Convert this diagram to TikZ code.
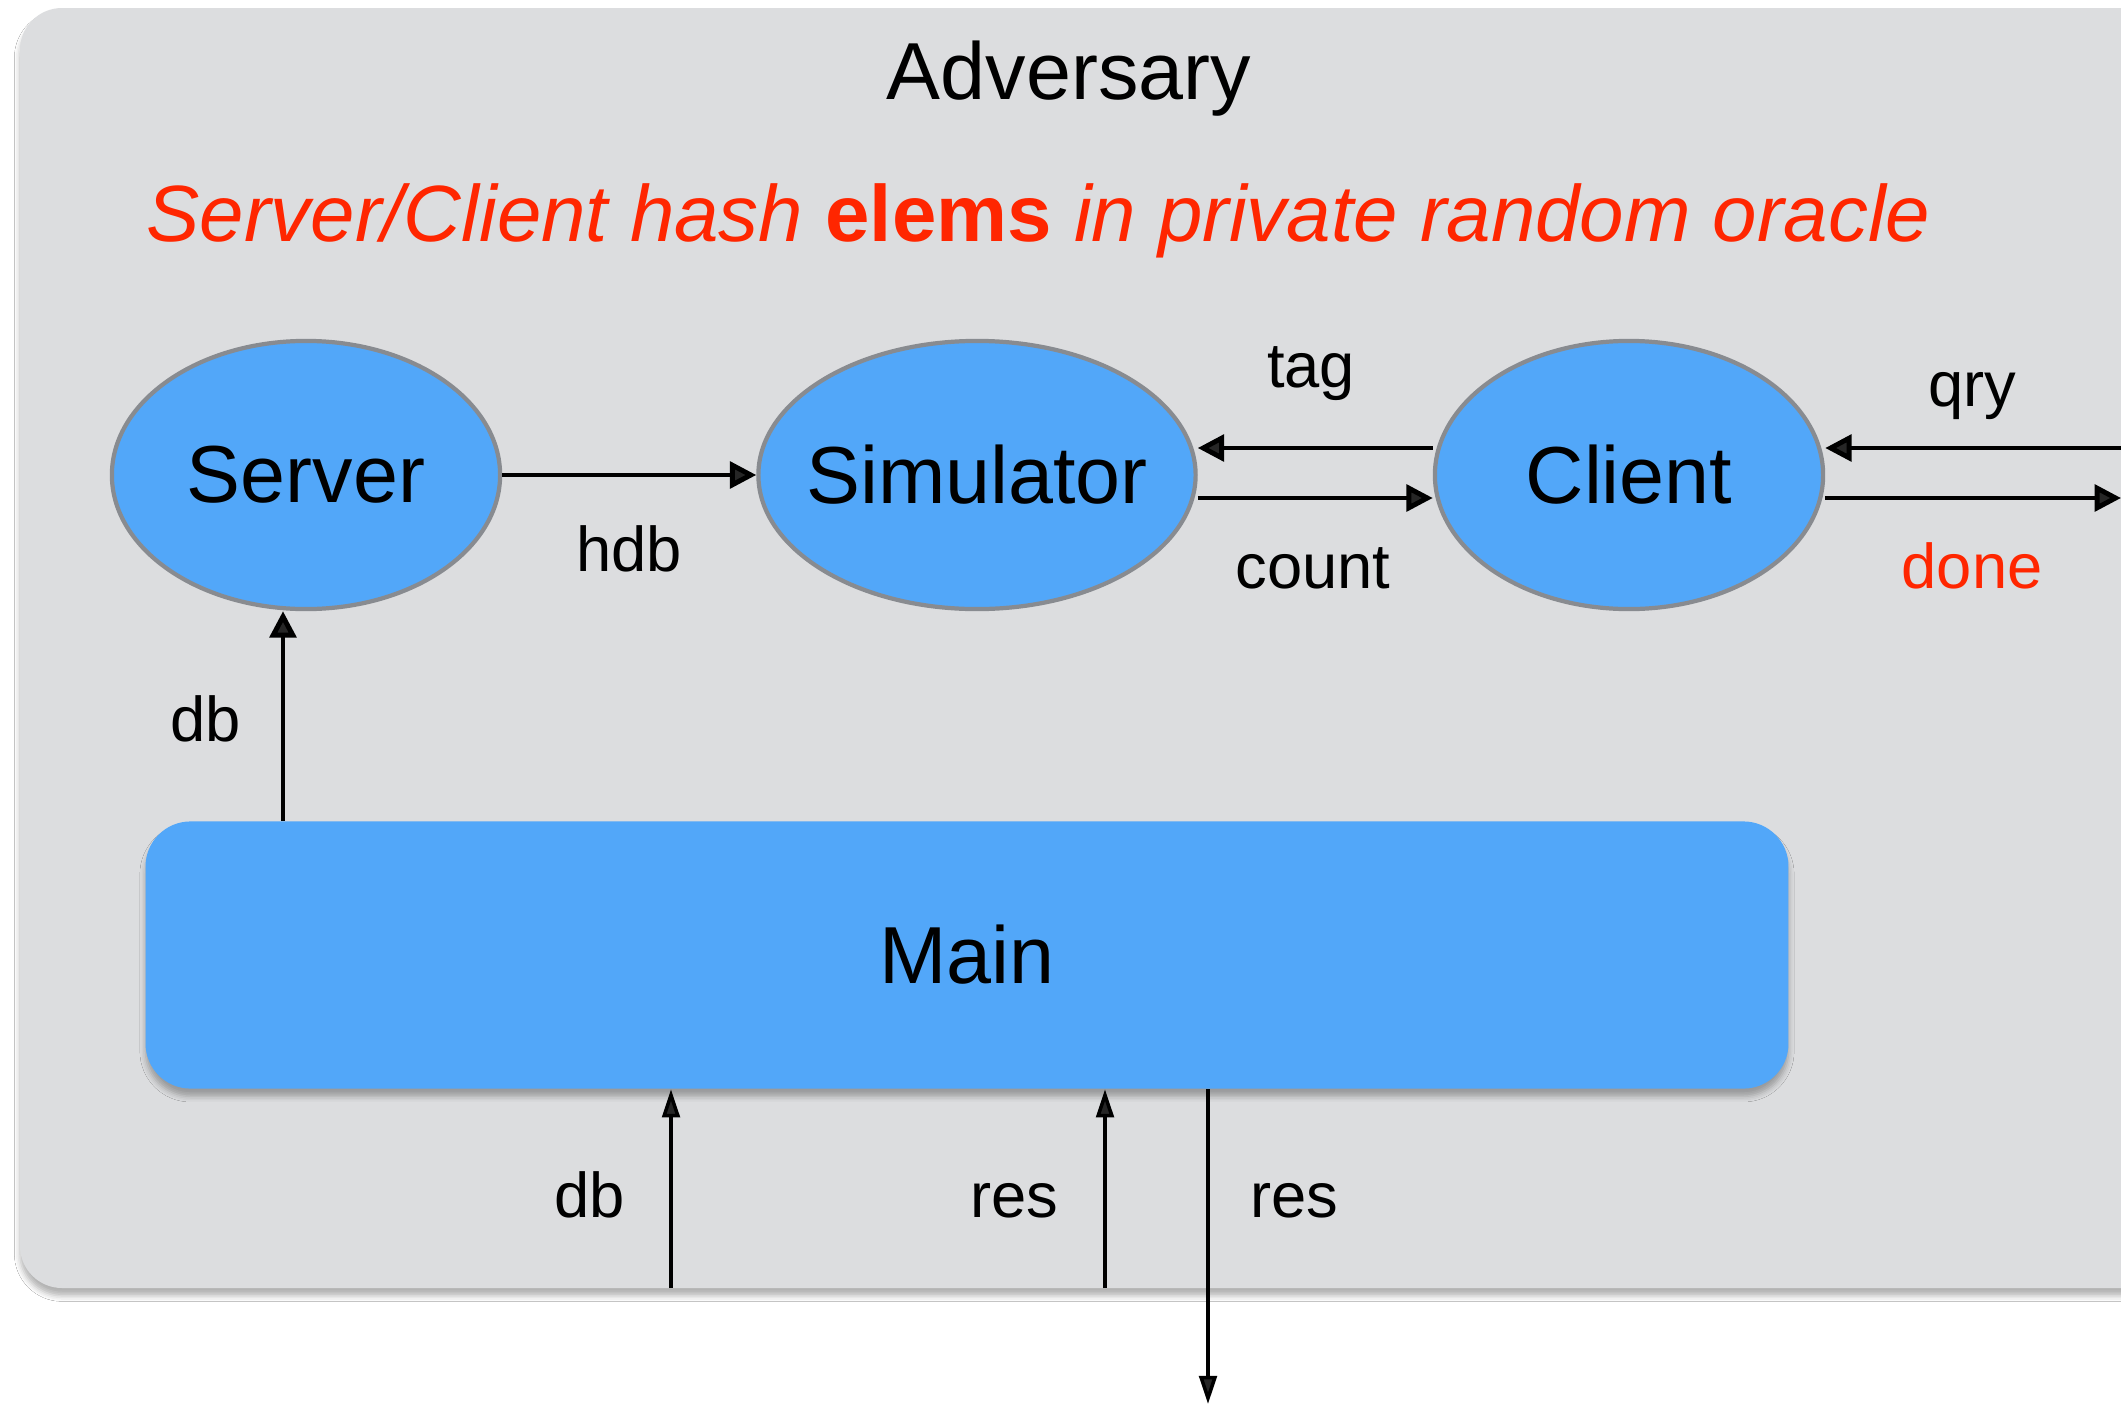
\documentclass[tikz,border=0pt]{standalone}
\usepackage{fontspec}
\setmainfont{Liberation Sans}
\usetikzlibrary{arrows.meta,shapes.geometric,calc,shadows.blur}

\definecolor{panelgray}{RGB}{220,221,223}
\definecolor{keyblue}{RGB}{82,167,249}
\definecolor{rimgray}{RGB}{136,139,144}
\definecolor{alertred}{RGB}{255,38,0}

% text that does not widen its node
\newcommand{\slimtext}[1]{\makebox[0pt][c]{#1}}

\begin{document}
\begin{tikzpicture}[x=0.01cm,y=-0.01cm,
  proc/.style={ellipse, draw=rimgray, line width=1.2pt, fill=keyblue,
    minimum height=2.68cm, inner sep=0pt, font=\fontsize{23}{27}\selectfont},
  softshadow/.style={blur shadow={shadow xshift=0pt, shadow yshift=-2.2pt,
    shadow blur radius=1.6pt, shadow opacity=30}},
  mainbox/.style={rectangle, rounded corners=0.45cm, fill=keyblue,
    minimum width=16.42cm, minimum height=2.67cm, inner sep=0pt,
    font=\fontsize{23}{27}\selectfont, softshadow},
  bigflow/.style={line width=1.4pt, -{Triangle[length=7.5pt,width=7.5pt]}},
  thinflow/.style={line width=1.0pt, -{Triangle[length=8pt,width=5pt]}},
  lbl/.style={anchor=base, inner sep=0pt, font=\fontsize{18}{22}\selectfont},
]
\useasboundingbox (0,0) rectangle (2121,1406);
\clip (0,0) rectangle (2121,1406);
\fill[white] (0,0) rectangle (2121,1406);

% adversary panel
\fill[panelgray, rounded corners=0.42cm, softshadow] (20,8) rectangle (2170,1288);

\node[anchor=base, inner sep=0pt, font=\fontsize{23}{27}\selectfont] (adv) at (1069,99) {Adversary};
\node[anchor=base west, inner sep=0pt, text=alertred, font=\fontsize{22.7}{27}\selectfont\itshape]
  (note) at (146,241) {Server/Client hash \textbf{\upshape elems} in private random oracle};

% parties
\node[proc, minimum width=3.88cm] (srv) at (306,475) {\slimtext{Server}};
\node[proc, minimum width=4.37cm] (sim) at (977,475) {\slimtext{Simulator}};
\node[proc, minimum width=3.88cm] (cli) at (1629,475) {\slimtext{Client}};
\node[mainbox] (main) at (967,955) {Main};

% free ends
\coordinate (qin)  at (2130,448);
\coordinate (dout) at (2121,498);
\coordinate (dbx)  at (283,0);
\coordinate (dbin) at (671,1288);
\coordinate (rsin) at (1105,1288);
\coordinate (rsout) at (1208,1404);

% messages between parties
\draw[bigflow] (srv.east) -- (sim.west);
\draw[bigflow] ($(cli.west)+(0,-27)$) -- ($(sim.east)+(0,-27)$);
\draw[bigflow] ($(sim.east)+(0,23)$) -- ($(cli.west)+(0,23)$);
\draw[bigflow] (qin) -- ($(cli.east)+(0,-27)$);
\draw[bigflow] ($(cli.east)+(0,23)$) -- (dout);
\draw[bigflow] (main.north -| dbx) -- (srv.south -| dbx);

% messages to and from main
\draw[thinflow] (dbin) -- (main.south -| dbin);
\draw[thinflow] (rsin) -- (main.south -| rsin);
\draw[thinflow] (main.south -| rsout) -- (rsout);

% labels
\node[lbl] (lhdb) at (629,571) {hdb};
\node[lbl] (ltag) at (1311,387) {tag};
\node[lbl] (lcnt) at (1313,588) {count};
\node[lbl] (lqry) at (1972,406) {qry};
\node[lbl, text=alertred] (ldone) at (1972,588) {done};
\node[lbl] (ldb1) at (206,741) {db};
\node[lbl] (ldb2) at (590,1217) {db};
\node[lbl] (lres1) at (1014,1217) {res};
\node[lbl] (lres2) at (1294,1217) {res};
\end{tikzpicture}
\end{document}
